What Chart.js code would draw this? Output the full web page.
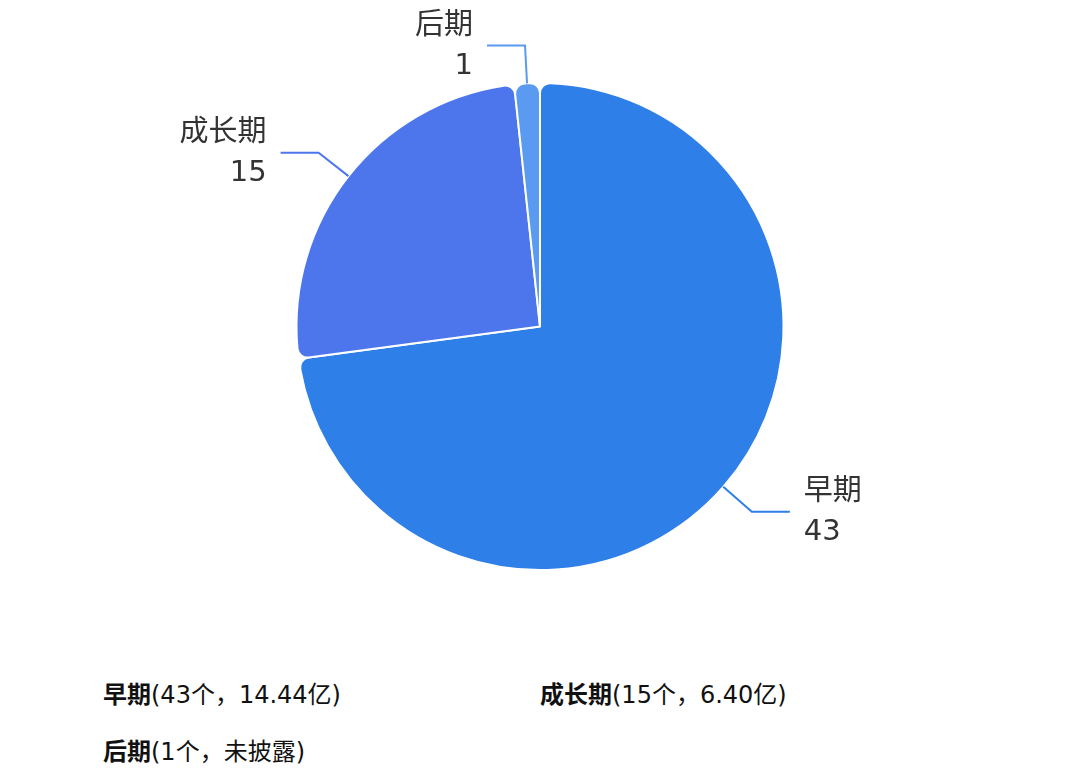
<!DOCTYPE html>
<html lang="zh">
<head>
    <meta charset="UTF-8">
    <title>投资阶段分布</title>
    <script src="https://cdn.jsdelivr.net/npm/chart.js"></script>
    <style>
        body {
            margin: 0;
            background: #fff;
            font-family: 'DejaVu Sans', 'Noto Sans CJK SC', sans-serif;
            width: 1080px;
            height: 769px;
            position: relative;
            overflow: hidden;
        }

        #wrap {
            position: absolute;
            left: 0;
            top: 0;
            width: 1080px;
            height: 660px;
        }

        .legend-item {
            position: absolute;
            font-size: 24px;
            color: #111;
            line-height: 30px;
            white-space: nowrap;
        }

        .legend-item b {
            font-weight: 700;
        }
    </style>
</head>
<body>
    <div id="wrap"><canvas id="stageChart"></canvas></div>
    <div id="legend"></div>

    <script>
        // 数据
        const stages = ["早期", "成长期", "后期"];
        const counts = [43, 15, 1];
        const amounts = ["14.44亿", "6.40亿", "未披露"];
        const colors = ["#2e7fe8", "#4d76ec", "#5a9af1"];

        // 外部标签 + 引导线
        const outerLabels = {
            id: "outerLabels",
            afterDatasetsDraw(chart) {
                const ctx = chart.ctx;
                const arcs = chart.getDatasetMeta(0).data;
                ctx.save();
                arcs.forEach((arc, i) => {
                    const mid = (arc.startAngle + arc.endAngle) / 2;
                    const r = arc.outerRadius;
                    const x0 = arc.x + Math.cos(mid) * r;
                    const y0 = arc.y + Math.sin(mid) * r;
                    const x1 = arc.x + Math.cos(mid) * (r + 38);
                    const y1 = arc.y + Math.sin(mid) * (r + 38);
                    const right = Math.cos(mid) >= 0;
                    const x2 = x1 + (right ? 38 : -38);

                    ctx.strokeStyle = colors[i];
                    ctx.lineWidth = 2;
                    ctx.beginPath();
                    ctx.moveTo(x0, y0);
                    ctx.lineTo(x1, y1);
                    ctx.lineTo(x2, y1);
                    ctx.stroke();

                    ctx.fillStyle = "#333";
                    ctx.font = "29px 'DejaVu Sans', 'Noto Sans CJK SC', sans-serif";
                    ctx.textBaseline = "middle";
                    ctx.textAlign = right ? "left" : "right";
                    const tx = x2 + (right ? 14 : -14);
                    ctx.fillText(stages[i], tx, y1 - 19);
                    ctx.fillText(String(counts[i]), tx, y1 + 21);
                });
                ctx.restore();
            }
        };

        new Chart(document.getElementById("stageChart"), {
            type: "pie",
            data: {
                labels: stages,
                datasets: [{
                    data: counts,
                    backgroundColor: colors,
                    borderColor: "#fff",
                    borderWidth: 2,
                    borderRadius: 10
                }]
            },
            options: {
                responsive: true,
                maintainAspectRatio: false,
                animation: false,
                layout: {
                    padding: { top: 82, bottom: 89, left: 200, right: 200 }
                },
                plugins: {
                    legend: { display: false },
                    tooltip: { enabled: false }
                }
            },
            plugins: [outerLabels]
        });

        // 底部说明
        const legendPos = [[103, 680], [540, 680], [103, 737]];
        const legend = document.getElementById("legend");
        stages.forEach((s, i) => {
            const div = document.createElement("div");
            div.className = "legend-item";
            div.style.left = legendPos[i][0] + "px";
            div.style.top = legendPos[i][1] + "px";
            div.innerHTML = `<b>${s}</b>(${counts[i]}个，${amounts[i]})`;
            legend.appendChild(div);
        });
    </script>
</body>
</html>
